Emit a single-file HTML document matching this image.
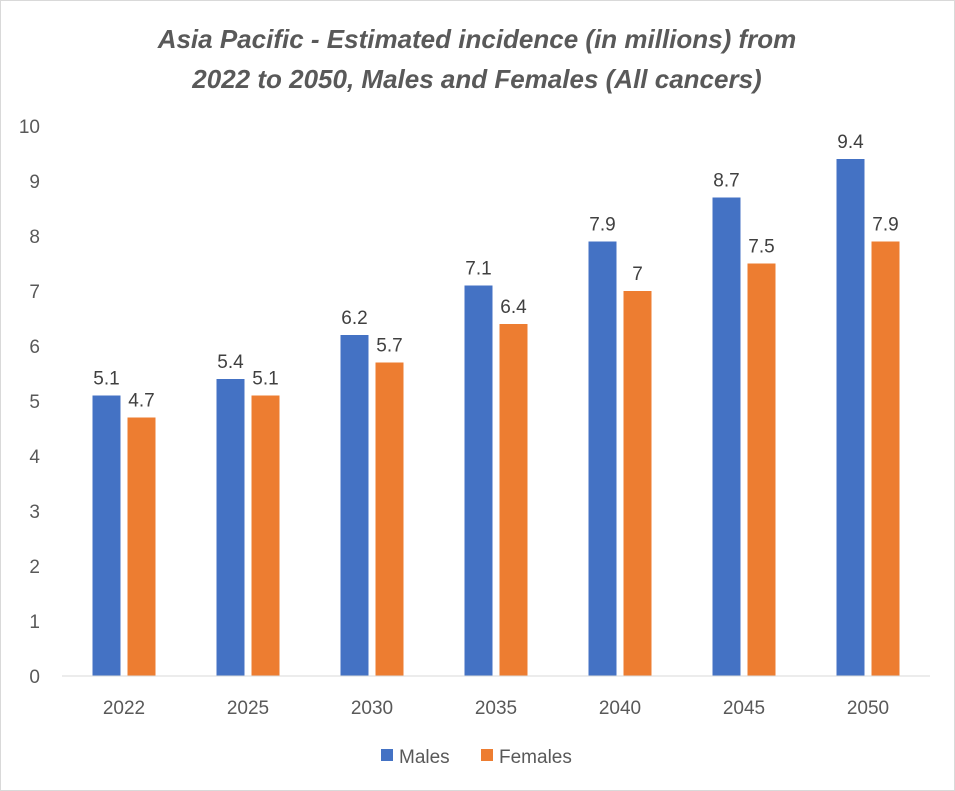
<!DOCTYPE html>
<html><head><meta charset="utf-8"><style>
html,body{margin:0;padding:0;background:#fff;}
svg{display:block;font-family:"Liberation Sans",Calibri,sans-serif;}
</style></head><body>
<svg id="chart" width="955" height="791" viewBox="0 0 955 791">
<rect x="0.5" y="0.5" width="954" height="790" fill="#fff" stroke="#d9d9d9"/>
<text x="477" y="48" text-anchor="middle" font-size="26" font-style="italic" font-weight="bold" fill="#595959">Asia Pacific - Estimated incidence (in millions) from</text>
<text x="477" y="88" text-anchor="middle" font-size="26" font-style="italic" font-weight="bold" fill="#595959">2022 to 2050, Males and Females (All cancers)</text>
<g id="yaxis"></g>
<g id="bars"></g>
<g id="xaxis"></g>
<g>
<rect x="381" y="749" width="12" height="12" fill="#4472c4"/>
<text x="399" y="763" font-size="19" fill="#595959">Males</text>
<rect x="481" y="749" width="12" height="12" fill="#ed7d31"/>
<text x="499" y="763" font-size="19" fill="#595959">Females</text>
</g>
</svg>
<script>
const categories = ["2022","2025","2030","2035","2040","2045","2050"];
const males = [5.1,5.4,6.2,7.1,7.9,8.7,9.4];
const females = [4.7,5.1,5.7,6.4,7,7.5,7.9];
const yTicks = [0,1,2,3,4,5,6,7,8,9,10];
const NS="http://www.w3.org/2000/svg";
const plotL=62, plotR=930, y0=676, yTop=126, yMax=10;
const band=(plotR-plotL)/categories.length;
const y=v=>y0-(v/yMax)*(y0-yTop);
const xc=i=>plotL+band*(i+0.5);
function mk(tag,attrs,parent){const e=document.createElementNS(NS,tag);for(const k in attrs)e.setAttribute(k,attrs[k]);parent.appendChild(e);return e;}
const ya=document.getElementById('yaxis'),bg=document.getElementById('bars'),xa=document.getElementById('xaxis');
yTicks.forEach(t=>{
  const tx=mk('text',{x:40,y:y(t)+7,'text-anchor':'end','font-size':19,fill:'#595959'},ya);
  
  
  tx.textContent=t;
});
const base=mk('line',{x1:plotL,x2:plotR,y1:y0,y2:y0,stroke:'#d9d9d9','stroke-width':1},xa);


const bw=28,gap=7;
categories.forEach((c,i)=>{
  const cx=xc(i);
  [[males[i],cx-gap/2-bw,'#4472c4','male'],[females[i],cx+gap/2,'#ed7d31','female']].forEach(([v,x,col,s])=>{
    const r=mk('rect',{x:x,y:y(v),width:bw,height:y0-y(v),fill:col},bg);
    
    
    const l=mk('text',{x:x+bw/2,y:y(v)-11,'text-anchor':'middle','font-size':19,fill:'#404040'},bg);
    
    
    l.textContent=v;
  });
  const t=mk('text',{x:cx,y:714,'text-anchor':'middle','font-size':19,fill:'#595959'},xa);
  
  
  t.textContent=c;
});
</script>
</body></html>
